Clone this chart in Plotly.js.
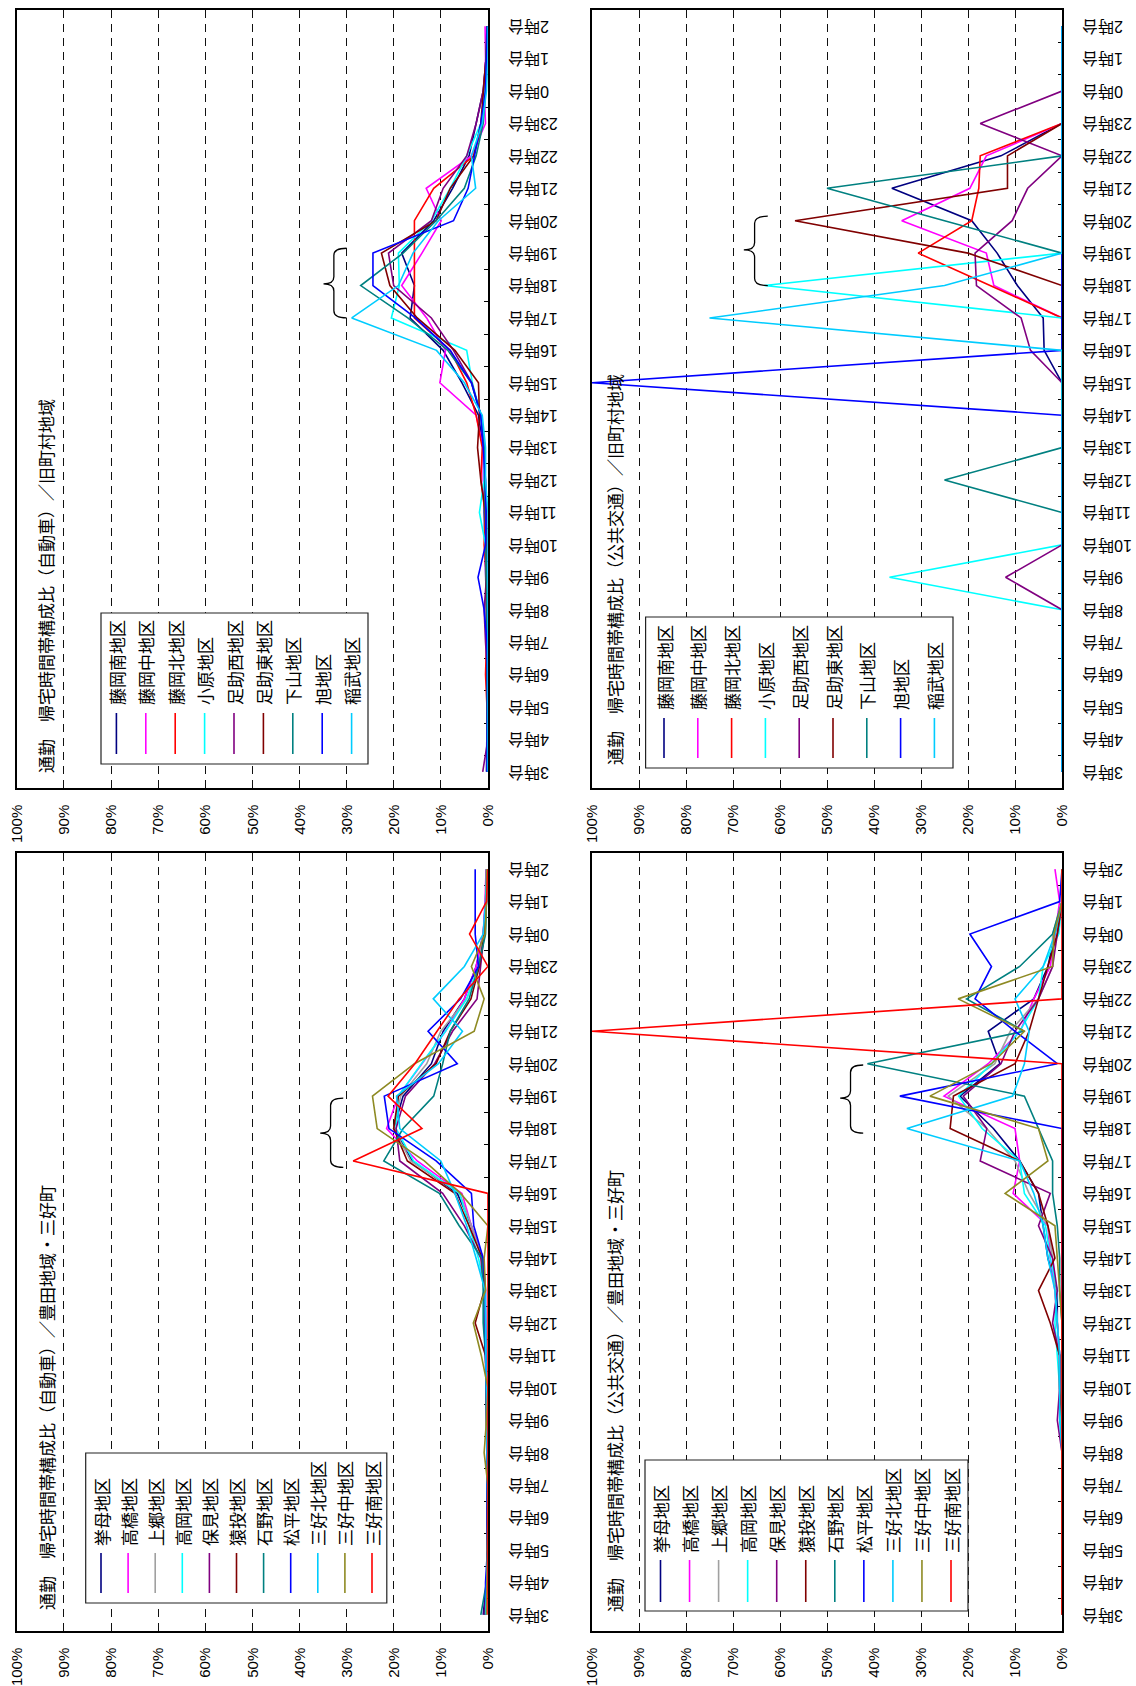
<!DOCTYPE html>
<html>
<head>
<meta charset="utf-8">
<script src="https://cdn.plot.ly/plotly-3.0.1.min.js"></script>
<style>
  html, body { margin: 0; padding: 0; overflow: hidden; background: #fff; width: 1136px; height: 1686px; }
  /* the landscape sheet (1686 x 1136) is turned a quarter turn counter-clockwise */
  #page { position: absolute; left: 0; top: 0; width: 1686px; height: 1136px;
          transform-origin: 0 0; transform: translate(0, 1686px) rotate(-90deg); }
</style>
</head>
<body>
<div id="page"></div>
<script>
// ---------------- categories ----------------
const HOURS = ['3時台','4時台','5時台','6時台','7時台','8時台','9時台','10時台','11時台','12時台','13時台','14時台',
               '15時台','16時台','17時台','18時台','19時台','20時台','21時台','22時台','23時台','0時台','1時台','2時台'];

const KYU_NAMES = ['藤岡南地区','藤岡中地区','藤岡北地区','小原地区','足助西地区','足助東地区','下山地区','旭地区','稲武地区'];
const KYU_COLORS = ['#000080','#FF00FF','#FF0000','#00FFFF','#800080','#800000','#008080','#0000FF','#00CCFF'];

const MIYOSHI_NAMES = ['挙母地区','高橋地区','上郷地区','高岡地区','保見地区','猿投地区','石野地区','松平地区','三好北地区','三好中地区','三好南地区'];
const MIYOSHI_COLORS = ['#000080','#FF00FF','#A0A0A0','#00FFFF','#800080','#800000','#008080','#0000FF','#00CCFF','#8E8A23','#FF0000'];

// ---------------- values (%), one row per district, columns follow HOURS ----------------
// 自動車 / 旧町村地域
const carKyu = [
  [0.3,0.2,0.1,0.1,0.2,0.3,0.5,0.6,0.8,0.8,1.0,2.0,5.5,9.5,16.5,15.6,18.3,11.5,7.5,4.0,2.5,1.0,0.4,0.2], // 藤岡南
  [0.1,0.1,0.1,0.2,0.2,0.3,0.4,0.6,0.5,1.0,1.0,2.5,10.2,9.0,13.0,18.3,14.0,9.9,13.1,3.5,0.5,0.8,0.5,0.6], // 藤岡中
  [0.2,0.1,0.2,0.5,0.3,0.2,0.3,0.8,0.6,1.5,1.2,2.5,4.5,8.0,15.6,15.6,15.6,15.6,11.5,3.0,1.2,0.5,0.3,0.2], // 藤岡北
  [0.2,0.1,0.1,0.1,0.2,0.3,0.4,0.5,1.8,0.8,0.8,1.5,3.3,4.5,20.5,18.8,19.0,12.0,8.0,4.5,1.5,0.6,0.3,0.2], // 小原
  [1.1,0.0,0.0,0.1,0.5,0.8,0.3,0.2,0.3,0.5,0.8,1.5,3.4,7.3,12.0,20.0,21.1,12.0,9.5,4.5,2.5,1.0,0.4,0.2], // 足助西
  [0.1,0.1,0.1,0.1,0.2,0.3,0.3,0.4,0.5,1.5,2.2,1.8,2.0,7.0,15.0,20.8,22.6,11.0,8.0,3.0,1.5,1.0,0.4,0.1], // 足助東
  [0.1,0.1,0.1,0.1,0.2,0.2,0.3,0.4,0.5,0.6,0.8,1.5,3.5,8.5,17.0,27.0,18.0,11.0,5.0,2.5,1.0,0.5,0.3,0.2], // 下山
  [0.2,0.1,0.1,0.1,0.2,0.8,2.1,0.5,0.4,0.5,1.0,1.5,3.5,8.0,15.4,24.4,24.4,7.3,4.2,2.9,1.5,0.5,0.3,0.1], // 旭
  [0,0,0,0,0,0,0,0,0,0.5,0.5,1.2,5.0,10.9,28.9,19.0,15.9,10.5,2.6,3.5,1.2,0.3,0,0]                       // 稲武
];

// 自動車 / 豊田地域・三好町
const carMiyoshi = [
  [1.0,0.3,0.0,0.1,0.1,0.1,0.2,0.3,0.4,0.8,0.8,1.2,3.5,6.5,16.0,20.0,18.0,12.0,9.5,5.0,2.5,1.0,0.5,0.3], // 挙母
  [0.5,0.2,0.0,0.1,0.1,0.1,0.2,0.3,0.3,0.5,0.6,1.0,3.5,5.5,15.0,21.5,19.0,14.0,9.0,5.0,2.5,1.0,0.6,0.4], // 高橋
  [0.5,0.2,0.1,0.1,0.1,0.2,0.2,0.3,0.4,0.6,0.7,1.2,3.5,6.0,16.4,20.0,18.5,13.0,10.0,4.5,2.0,1.0,0.3,0.2], // 上郷
  [0.5,0.2,0.0,0.0,0.1,0.1,0.2,0.3,0.4,0.6,0.6,2.0,4.0,6.0,15.8,19.5,19.0,14.1,9.0,4.5,2.0,0.6,0.3,0.2], // 高岡
  [0.8,0.2,0.1,0.1,0.1,0.2,0.3,0.4,0.5,0.8,0.8,1.5,5.0,9.6,18.7,19.5,17.5,11.3,7.5,2.3,1.5,0.8,0.3,0.2], // 保見
  [0.6,0.2,0.1,0.1,0.1,0.2,0.3,0.4,0.5,2.7,0.8,1.2,4.0,7.0,17.1,20.0,19.0,11.0,8.0,3.6,1.8,0.8,0.3,0.2], // 猿投
  [1.5,0.3,0.1,0.1,0.1,0.2,0.3,0.3,0.5,1.0,1.0,1.2,6.1,10.3,22.1,18.0,11.5,9.6,8.0,4.0,2.0,0.5,0.3,0.2], // 石野
  [0.5,0.5,0.1,0.1,0.1,0.2,0.2,0.3,0.5,0.5,0.5,1.0,3.0,3.5,11.0,21.0,22.0,6.5,12.7,5.8,2.0,2.7,2.7,2.7], // 松平
  [0.5,0.2,0.0,0.0,0.1,0.1,0.2,0.3,0.4,0.6,0.6,2.5,4.5,7.0,10.0,18.7,19.4,10.5,5.4,11.6,5.0,1.0,0.5,0.3], // 三好北
  [0.3,0.2,0.0,0.0,0.0,0.8,0.3,0.0,1.4,3.1,0.5,0.8,0.0,5.8,13.5,23.5,24.5,15.6,2.9,0.8,3.5,0.6,0.3,0.3], // 三好中
  [0,0,0,0,0,0,0,0,0,0,0,0,0,0,28.6,14.0,21.2,15.5,10.8,6.1,0,3.9,0.3,0]                               // 三好南
];

// 公共交通 / 旧町村地域
const ptKyu = [
  [0,0,0,0,0,0,0,0,0,0,0,0,0,3.8,4.0,9.5,13.8,19.2,36.2,13.0,0,0,0,0],     // 藤岡南
  [0,0,0,0,0,0,0,0,0,0,0,0,0,0,0,14.5,16.1,34.1,19.6,16.1,0,0,0,0],        // 藤岡中
  [0,0,0,0,0,0,0,0,0,0,0,0,0,0,0,15.3,30.6,19.2,17.7,17.4,0,0,0,0],        // 藤岡北
  [0,0,0,0,0,0,36.7,0,0,0,0,0,0,0,0,63.3,0,0,0,0,0,0,0,0],                 // 小原
  [0,0,0,0,0,0,12.0,0,0,0,0,0,0,6.7,8.7,18.2,18.5,10.6,7.3,0,17.4,0,0,0],  // 足助西
  [0,0,0,0,0,0,0,0,0,0,0,0,0,0,0,0,20.0,56.8,11.6,11.6,0,0,0,0],           // 足助東
  [0,0,0,0,0,0,0,0,0,25.0,0,0,0,0,0,0,0,25.0,50.0,0,0,0,0,0],              // 下山
  [0,0,0,0,0,0,0,0,0,0,0,0,100,0,0,0,0,0,0,0,0,0,0,0],                     // 旭
  [0,0,0,0,0,0,0,0,0,0,0,0,0,0,75.0,25.0,0,0,0,0,0,0,0,0]                  // 稲武
];

// 公共交通 / 豊田地域・三好町
const ptMiyoshi = [
  [0,0,0,0,0,0,0.3,0.5,0.5,1,1,3,4,5,9,14.6,21.7,13.2,15.7,6,3,1.5,0,0],        // 挙母
  [0,0,0,0,0,0,0.3,0.3,0.5,1,1.5,2.5,3,10.4,9,10,25.1,15.7,8.9,6,2.5,1.5,0.5,1.5], // 高橋
  [0,0,0,0,0,0,0,0.5,0.5,1,1.5,2,3,7,10,16,24.2,14.3,11,5,2,2,0,0],             // 上郷
  [0,0,0,0,0,0,0.3,0.5,1,1.5,1,2.5,3.5,8,9,17,22,15,9,5,4,0.7,0,0],             // 高岡
  [0,0,0,0,0,0,1,0.5,0.5,2,1,2,5,2.5,17.4,16,21,13,10,5,2,1,0,0],               // 保見
  [0,0,0,0,0,0,0,0.5,0.5,2.5,5,1.5,3,5,9,23.8,23.1,10,7,5,3,1,0,0],             // 猿投
  [0,0,0,0,0,0,0,0,0,0,0.5,0.5,1,2,2,5,8,41.4,8,20.3,9,2,0,0],                  // 石野
  [0,0,0,0,0,0,0,0,0,0,0,0,0,0,0,0,34.5,1,10,18.5,15,19.6,0.5,0],               // 松平
  [0,0,0,0,0,0,0.5,0.5,0.5,1,1.5,3,4,6,9,33,10.5,8,7,10,4,1.5,0,0],             // 三好北
  [0,0,0,0,0,0,0,0,0,0,0.5,1,1.5,12.1,3,5,28.1,15,8,22.1,2,1.7,0,0],            // 三好中
  [0,0,0,0,0,0,0,0,0,0,0,0,0,0,0,0,0,0,100,0,0,0,0,0]                           // 三好南
];

const TITLES = {
  carMiyoshi: '通勤　帰宅時間帯構成比（自動車）／豊田地域・三好町',
  carKyu:     '通勤　帰宅時間帯構成比（自動車）／旧町村地域',
  ptMiyoshi:  '通勤　帰宅時間帯構成比（公共交通）／豊田地域・三好町',
  ptKyu:      '通勤　帰宅時間帯構成比（公共交通）／旧町村地域'
};

// ---------------- sheet geometry (px on the 1686 x 1136 sheet) ----------------
const W = 1686, H = 1136;
const px = v => v / W;
const py = v => 1 - v / H;
const JP = '"Noto Sans CJK JP", sans-serif';
const NUM = '"Liberation Sans", Arial, "Noto Sans CJK JP", sans-serif';

const panels = [
  { xa: 'x',  ya: 'y',  names: MIYOSHI_NAMES, colors: MIYOSHI_COLORS, data: carMiyoshi, title: TITLES.carMiyoshi,
    titleAt: [74, 46],
    legend: { box: [83, 233, 85.7, 386.8], y0: 101, dy: 27.1, l0: 93, l1: 133, tx: 138 },
    brace: [13.8, 15.94, 14.86, 30.7, 35.6] },
  { xa: 'x2', ya: 'y2', names: KYU_NAMES, colors: KYU_COLORS, data: carKyu, title: TITLES.carKyu,
    titleAt: [911, 45.5],
    legend: { box: [922, 1073, 101, 368], y0: 116.4, dy: 29.4, l0: 932, l1: 973, tx: 979 },
    brace: [14.0, 16.15, 15.05, 30.0, 34.9] },
  { xa: 'x3', ya: 'y3', names: MIYOSHI_NAMES, colors: MIYOSHI_COLORS, data: ptMiyoshi, title: TITLES.ptMiyoshi,
    titleAt: [72, 614],
    legend: { box: [75, 226, 645, 968], y0: 660.5, dy: 29.05, l0: 84, l1: 126, tx: 131 },
    brace: [14.86, 16.96, 15.94, 42.3, 47.2] },
  { xa: 'x4', ya: 'y4', names: KYU_NAMES, colors: KYU_COLORS, data: ptKyu, title: TITLES.ptKyu,
    titleAt: [919, 614],
    legend: { box: [918, 1069, 645.6, 953], y0: 664, dy: 33.8, l0: 928, l1: 968, tx: 974 },
    brace: [15.0, 17.14, 16.1, 62.6, 67.7] }
];

function bracePath(x0, x1, xt, yArm, yTip) {
  const ym = yArm + 0.55 * (yTip - yArm), d = 0.22;
  return `M${x0},${yArm} Q${x0},${ym} ${x0 + d},${ym} L${xt - d},${ym} Q${xt},${ym} ${xt},${yTip} ` +
         `Q${xt},${ym} ${xt + d},${ym} L${x1 - d},${ym} Q${x1},${ym} ${x1},${yArm}`;
}

const traces = [];
const shapes = [];
const annotations = [];

panels.forEach(p => {
  p.data.forEach((vals, i) => {
    traces.push({
      type: 'scatter', mode: 'lines', x: HOURS, y: vals,
      xaxis: p.xa, yaxis: p.ya, name: p.names[i],
      line: { color: p.colors[i], width: 1.6 },
      cliponaxis: false, showlegend: false, hoverinfo: 'skip'
    });
  });

  // title inside the frame
  annotations.push({
    xref: 'paper', yref: 'paper', x: px(p.titleAt[0]), y: py(p.titleAt[1]),
    xanchor: 'left', yanchor: 'middle', showarrow: false,
    text: p.title, font: { family: JP, size: 17, color: '#000' }
  });

  // district key
  const L = p.legend;
  shapes.push({
    type: 'rect', xref: 'paper', yref: 'paper', layer: 'above',
    x0: px(L.box[0]), x1: px(L.box[1]), y0: py(L.box[2]), y1: py(L.box[3]),
    line: { color: '#222', width: 1.2 }, fillcolor: '#fff'
  });
  p.names.forEach((n, i) => {
    const yy = L.y0 + i * L.dy;
    shapes.push({
      type: 'line', xref: 'paper', yref: 'paper', layer: 'above',
      x0: px(L.l0), x1: px(L.l1), y0: py(yy), y1: py(yy),
      line: { color: p.colors[i], width: 1.6 }
    });
    annotations.push({
      xref: 'paper', yref: 'paper', x: px(L.tx), y: py(yy),
      xanchor: 'left', yanchor: 'middle', showarrow: false,
      text: n, font: { family: JP, size: 17, color: '#000' }
    });
  });

  // brace over the evening peak
  const b = p.brace;
  shapes.push({
    type: 'path', xref: p.xa, yref: p.ya, layer: 'above',
    path: bracePath(b[0], b[1], b[2], b[3], b[4]),
    line: { color: '#000', width: 1.3 }
  });
});

function hourAxis(domain, anchor) {
  return {
    type: 'category', categoryorder: 'array', categoryarray: HOURS,
    domain: domain, anchor: anchor, range: [-0.5, 23.5],
    tickmode: 'linear', tick0: 0, dtick: 1,
    tickson: 'boundaries', ticks: 'inside', ticklen: 4, tickwidth: 1, tickcolor: '#000',
    tickangle: -90, ticklabelstandoff: 12,
    tickfont: { family: NUM, size: 16, color: '#000' },
    showline: true, mirror: true, linecolor: '#000', linewidth: 1.7,
    showgrid: false, zeroline: false, layer: 'below traces', fixedrange: true
  };
}
function pctAxis(domain, anchor) {
  return {
    domain: domain, anchor: anchor, range: [0, 100],
    tickmode: 'linear', tick0: 0, dtick: 10, ticksuffix: '%',
    ticks: '', ticklabelstandoff: 12,
    tickfont: { family: NUM, size: 15, color: '#000' },
    showline: true, mirror: true, linecolor: '#000', linewidth: 1.7,
    showgrid: true, gridcolor: '#111', gridwidth: 1, griddash: '8px,6px',
    zeroline: false, layer: 'below traces', fixedrange: true
  };
}

const colL = [55 / W, 833 / W], colR = [898 / W, 1676 / W];
const rowT = [1 - 487.9 / H, 1 - 16.8 / H], rowB = [1 - 1062 / H, 1 - 592 / H];

const layout = {
  width: W, height: H,
  margin: { l: 0, r: 0, t: 0, b: 0, pad: 0 },
  paper_bgcolor: '#fff', plot_bgcolor: 'rgba(0,0,0,0)',
  showlegend: false,
  xaxis: hourAxis(colL, 'y'),   yaxis: pctAxis(rowT, 'x'),
  xaxis2: hourAxis(colR, 'y2'), yaxis2: pctAxis(rowT, 'x2'),
  xaxis3: hourAxis(colL, 'y3'), yaxis3: pctAxis(rowB, 'x3'),
  xaxis4: hourAxis(colR, 'y4'), yaxis4: pctAxis(rowB, 'x4'),
  shapes: shapes,
  annotations: annotations
};

Plotly.newPlot('page', traces, layout, { staticPlot: true, displayModeBar: false });
</script>
</body>
</html>
